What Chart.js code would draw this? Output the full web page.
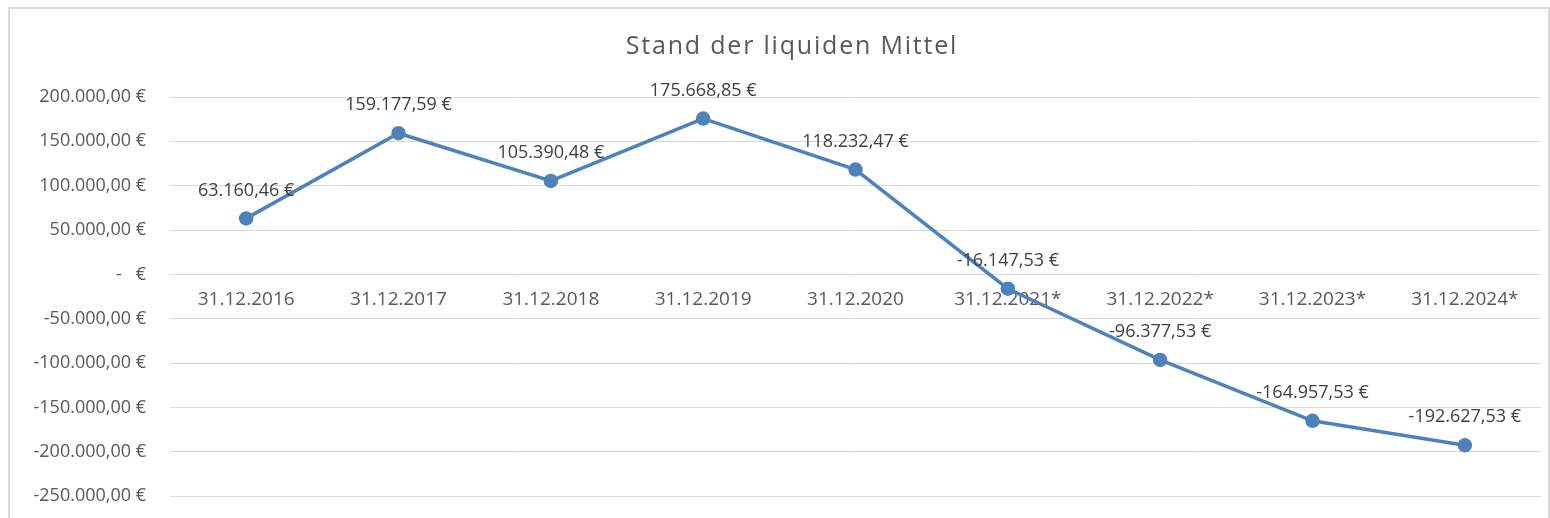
<!DOCTYPE html>
<html>
<head>
<meta charset="utf-8">
<script src="https://cdn.jsdelivr.net/npm/chart.js@4/dist/chart.umd.min.js"></script>
<style>
  html, body { margin: 0; padding: 0; background: #fff; overflow: hidden; }
  #wrap { width: 1550px; height: 518px; position: relative; overflow: hidden; }
</style>
</head>
<body>
<div id="wrap"><canvas id="liqChart" width="1550" height="531"></canvas></div>
<script>
const chartTitle = 'Stand der liquiden Mittel';
const dates = ['31.12.2016', '31.12.2017', '31.12.2018', '31.12.2019', '31.12.2020',
  '31.12.2021*', '31.12.2022*', '31.12.2023*', '31.12.2024*'];
const liquidity = [63160.46, 159177.59, 105390.48, 175668.85, 118232.47,
  -16147.53, -96377.53, -164957.53, -192627.53];
const yMin = -250000, yMax = 200000, yStep = 50000;

const FONT = "'Open Sans', 'Noto Sans', sans-serif";

// Zahl im deutschen Buchhaltungsformat
function euro(v, zeroDash) {
  if (zeroDash && Math.abs(v) < 0.005) return '-   €';
  const neg = v < 0;
  const parts = Math.abs(v).toFixed(2).split('.');
  const int = parts[0].replace(/\B(?=(\d{3})+(?!\d))/g, '.');
  return (neg ? '-' : '') + int + ',' + parts[1] + ' €';
}

// Rahmen und Titel
const framePlugin = {
  id: 'frame',
  beforeDraw(chart) {
    const ctx = chart.ctx;
    ctx.save();
    ctx.fillStyle = '#fff';
    ctx.fillRect(0, 0, chart.width, chart.height);
    ctx.strokeStyle = '#d9d9d9';
    ctx.lineWidth = 2;
    ctx.strokeRect(9, 8, chart.width - 10, chart.height + 10);
    ctx.font = '25px ' + FONT;
    ctx.letterSpacing = '1.8px';
    ctx.fillStyle = '#595959';
    ctx.textAlign = 'center';
    ctx.textBaseline = 'middle';
    ctx.fillText(chartTitle, 792, 47);
    ctx.restore();
  }
};

// Datenbeschriftungen über den Punkten
const labelPlugin = {
  id: 'pointLabels',
  afterDatasetsDraw(chart) {
    const ctx = chart.ctx;
    const meta = chart.getDatasetMeta(0);
    ctx.save();
    ctx.font = '18px ' + FONT;
    ctx.fillStyle = '#404040';
    ctx.textAlign = 'center';
    ctx.textBaseline = 'middle';
    meta.data.forEach((pt, i) => {
      ctx.fillText(euro(liquidity[i]), pt.x, pt.y - 28);
    });
    ctx.restore();
  }
};

new Chart(document.getElementById('liqChart'), {
  type: 'line',
  data: {
    labels: dates,
    datasets: [{
      label: chartTitle,
      data: liquidity,
      borderColor: '#4f81bd',
      backgroundColor: '#4f81bd',
      borderWidth: 3.5,
      pointRadius: 5.5,
      pointBackgroundColor: '#4f81bd',
      pointBorderColor: '#4f81bd',
      tension: 0,
      fill: false
    }]
  },
  options: {
    responsive: false,
    animation: false,
    layout: { padding: { left: 10, right: 3, top: 97, bottom: 0 } },
    plugins: {
      legend: { display: false },
      tooltip: { enabled: false },
      title: { display: false }
    },
    scales: {
      x: {
        position: { y: 0 },
        offset: true,
        grid: { display: false },
        border: { display: false },
        ticks: {
          color: '#595959',
          font: { family: FONT, size: 19 },
          padding: 6,
          maxRotation: 0,
          autoSkip: false
        }
      },
      y: {
        min: yMin,
        max: yMax,
        grid: { color: '#d9d9d9', lineWidth: 1, drawTicks: false },
        border: { display: false },
        ticks: {
          stepSize: yStep,
          color: '#595959',
          font: { family: FONT, size: 18 },
          padding: 24,
          callback: v => euro(v, true)
        },
        afterFit(scale) { scale.width = 160; }
      }
    }
  },
  plugins: [framePlugin, labelPlugin]
});
</script>
</body>
</html>
